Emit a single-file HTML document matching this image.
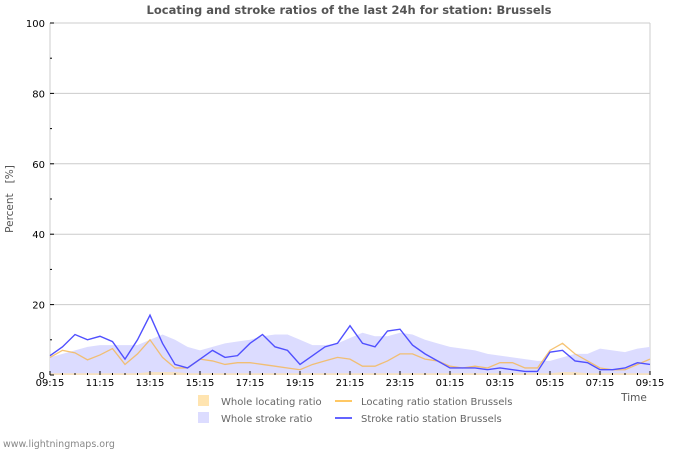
<!DOCTYPE html>
<html><head><meta charset="utf-8"><style>
body{margin:0;background:#fff;font-family:"Liberation Sans","DejaVu Sans",sans-serif}
svg text{font-family:"DejaVu Sans","Liberation Sans",sans-serif}
</style></head><body>
<svg id="c" width="700" height="450" xmlns="http://www.w3.org/2000/svg">
<text x="349" y="14" text-anchor="middle" font-size="11.5" font-weight="bold" fill="#555">Locating and stroke ratios of the last 24h for station: Brussels</text>
<text transform="translate(13,199) rotate(-90)" text-anchor="middle" font-size="10.5" fill="#555" xml:space="preserve">Percent   [%]</text>
<text x="634" y="401" text-anchor="middle" font-size="10.5" fill="#555">Time</text>
<g id="grid"></g>
<g id="marks"></g>
<g id="axes"></g>
<g font-size="10" fill="#666">
<rect x="198" y="395" width="11" height="11" fill="#ffe4b0"/>
<text x="221" y="405">Whole locating ratio</text>
<rect x="198" y="412" width="11" height="11" fill="#dcdcff"/>
<text x="221" y="422">Whole stroke ratio</text>
<line x1="335" y1="401" x2="352" y2="401" stroke="#ffc864" stroke-width="2"/>
<text x="361" y="405">Locating ratio station Brussels</text>
<line x1="335" y1="418" x2="352" y2="418" stroke="#6464ff" stroke-width="2"/>
<text x="361" y="422">Stroke ratio station Brussels</text>
</g>
<text x="3" y="447" font-size="9.5" fill="#888">www.lightningmaps.org</text>
</svg>
<script>
const xLabels=["09:15","11:15","13:15","15:15","17:15","19:15","21:15","23:15","01:15","03:15","05:15","07:15","09:15"];
const yTicks=[0,20,40,60,80,100];
const strokeStation=[5.5,8,11.5,10,11,9.5,4.5,10,17,9,3,2,4.5,7,5,5.5,9,11.5,8,7,3,5.5,8,9,14,9,8,12.5,13,8.5,6,4,2,2,2,1.5,2,1.5,1,1,6.5,7,4,3.5,1.5,1.5,2,3.5,3];
const locatingStation=[5,7,6.3,4.3,5.7,7.5,3,6,10,5,2,2,4.5,4,3,3.5,3.5,3,2.5,2,1.5,3,4,5,4.5,2.5,2.5,4,6,6,4.5,4,2.5,2,2.5,2,3.5,3.5,2,2,7,9,6,4,2,1.5,1.5,3,4.5];
const wholeStroke=[5,6,7,8,8.5,8.5,8.5,8.5,10,11.5,10,8,7,8,9,9.5,10,11,11.5,11.5,10,8.5,8.5,9,10.5,12,11,11,12,11.5,10,9,8,7.5,7,6,5.5,5,4.5,4,4,5,6,6,7.5,7,6.5,7.5,8];
const wholeLocating=[0.5,0.5,0.5,0.5,0.5,0.5,0.5,0.5,0.8,0.8,0.8,0.5,0.5,0.5,0.5,0.5,0.5,0.5,0.5,0.5,0.5,0.5,0.5,0.5,0.5,0.5,0.5,0.5,0.5,0.5,0.5,0.5,0.5,0.5,0.5,0.5,0.5,0.5,0.5,0.5,0.5,0.8,0.8,0.5,0.5,0.5,0.5,0.5,0.5];
const NS="http://www.w3.org/2000/svg";
const L=50,R=650,T=23,B=375;
const n=wholeStroke.length;
const xs=i=>L+(R-L)*i/(n-1);
const ys=v=>B-(B-T)*v/100;
function mk(tag,attrs,parent){const e=document.createElementNS(NS,tag);for(const k in attrs)e.setAttribute(k,attrs[k]);document.getElementById(parent).appendChild(e);return e;}
yTicks.forEach(v=>{if(v>0){const g=mk('line',{x1:L,x2:R,y1:ys(v),y2:ys(v),stroke:'#ccc'},'grid');

}
const t=mk('text',{x:L-5,y:ys(v)+4,'text-anchor':'end','font-size':'10',fill:'#000'},'axes');t.textContent=v;


mk('line',{x1:L,x2:L+4,y1:ys(v),y2:ys(v),stroke:'#000'},'axes');
if(v<100)mk('line',{x1:L,x2:L+2,y1:ys(v+10),y2:ys(v+10),stroke:'#000'},'axes');});
mk('line',{x1:L,x2:L,y1:T,y2:B,stroke:'#ccc'},'grid');
mk('line',{x1:R,x2:R,y1:T,y2:B,stroke:'#ccc'},'grid');
xLabels.forEach((s,i)=>{const x=L+(R-L)*i/(xLabels.length-1);
const t=mk('text',{x:x,y:386,'text-anchor':'middle','font-size':'10',fill:'#000'},'axes');t.textContent=s;


mk('line',{x1:x,x2:x,y1:B,y2:B-4,stroke:'#000'},'axes');
if(i<xLabels.length-1)[0.25,0.5,0.75].forEach(f=>mk('line',{x1:x+50*f,x2:x+50*f,y1:B,y2:B-2,stroke:'#000'},'axes'));});
function area(arr){let d='M'+xs(0)+','+B;arr.forEach((v,i)=>d+='L'+xs(i)+','+ys(v));return d+'L'+xs(arr.length-1)+','+B+'Z';}
function line(arr){return arr.map((v,i)=>(i?'L':'M')+xs(i)+','+ys(v)).join('');}
const a1=mk('path',{d:area(wholeStroke),fill:'#dcdcff'},'marks');


const a2=mk('path',{d:area(wholeLocating),fill:'#ffe4b0',opacity:'0.8'},'marks');


const l1=mk('path',{d:line(locatingStation),fill:'none',stroke:'#f5b95a','stroke-width':'1.3','stroke-opacity':'0.85'},'marks');


const l2=mk('path',{d:line(strokeStation),fill:'none',stroke:'#5050ff','stroke-width':'1.4'},'marks');


</script>
</body></html>
